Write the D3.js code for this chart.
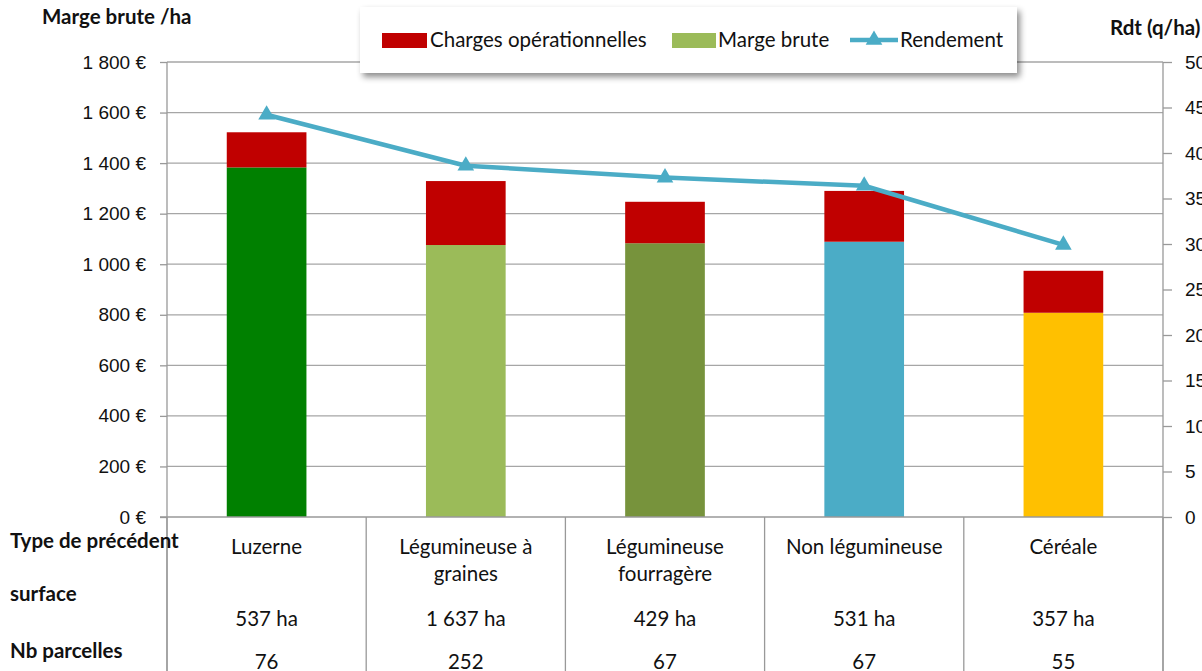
<!DOCTYPE html>
<html lang="fr">
<head>
<meta charset="UTF-8">
<script src="https://cdn.jsdelivr.net/npm/d3@7"></script>
<title>Marge brute par type de précédent</title>
<style>
    body { margin: 0; background: white; }
    svg { display: block; font-family: Lato, 'Open Sans', sans-serif; }
    .grid line { stroke: #a6a6a6; stroke-width: 1.3px; }
    .axis path, .axis line { stroke: #999; stroke-width: 1.3px; }
    .axis text { font-size: 19px; fill: #111; }
</style>
</head>
<body>
<div id="chart"></div>
<script>
    const categories = [["Luzerne"], ["Légumineuse à", "graines"], ["Légumineuse", "fourragère"], ["Non légumineuse"], ["Céréale"]];
    const margeBrute = [1383, 1076, 1083, 1089, 808];
    const charges = [139, 253, 164, 201, 166];
    const rendement = [44.2, 38.6, 37.3, 36.4, 29.9];
    const surfaces = ["537 ha", "1 637 ha", "429 ha", "531 ha", "357 ha"];
    const parcelles = ["76", "252", "67", "67", "55"];
    const barColors = ["#008000", "#9bbb59", "#77933c", "#4bacc6", "#ffc000"];
    const leftTicks = [0, 200, 400, 600, 800, 1000, 1200, 1400, 1600, 1800];
    const rightTicks = [0, 5, 10, 15, 20, 25, 30, 35, 40, 45, 50];

    const width = 1202, height = 671;
    const x0 = 167, x1 = 1163, yTop = 62, yBottom = 517;
    const red = "#c00000", lineColor = "#4bacc6";
    const fs = 20.5;

    const fr = d3.formatLocale({ decimal: ",", thousands: " ", grouping: [3], currency: ["", " €"] });
    const euro = fr.format("$,.0f");

    const svg = d3.select("#chart").append("svg")
        .attr("width", width)
        .attr("height", height);

    const defs = svg.append("defs");
    defs.append("filter").attr("id", "shadow")
        .attr("x", "-5%").attr("y", "-20%").attr("width", "115%").attr("height", "160%")
        .append("feDropShadow")
        .attr("dx", 3).attr("dy", 4).attr("stdDeviation", 3)
        .attr("flood-color", "#000").attr("flood-opacity", 0.45);

    const x = d3.scaleBand()
        .domain(d3.range(categories.length))
        .range([x0, x1])
        .paddingInner(0.6)
        .paddingOuter(0.3);
    const step = x.step();

    const y = d3.scaleLinear().domain([0, 1800]).range([yBottom, yTop]);
    const yR = d3.scaleLinear().domain([0, 50]).range([yBottom, yTop]);

    // gridlines
    svg.append("g").attr("class", "grid")
        .selectAll("line")
        .data(leftTicks.filter(d => d > 0))
        .enter().append("line")
        .attr("x1", x0).attr("x2", x1)
        .attr("y1", d => y(d)).attr("y2", d => y(d));

    // table lines below the axis
    svg.append("g").attr("class", "axis")
        .selectAll("line")
        .data(d3.range(categories.length + 1))
        .enter().append("line")
        .attr("x1", i => x0 + i * step)
        .attr("x2", i => x0 + i * step)
        .attr("y1", yBottom)
        .attr("y2", height);

    // stacked bars
    const bars = svg.append("g");
    bars.selectAll(".marge")
        .data(margeBrute)
        .enter().append("rect")
        .attr("x", (d, i) => x(i))
        .attr("width", x.bandwidth())
        .attr("y", d => y(d))
        .attr("height", d => y(0) - y(d))
        .attr("fill", (d, i) => barColors[i]);
    bars.selectAll(".charges")
        .data(charges)
        .enter().append("rect")
        .attr("x", (d, i) => x(i))
        .attr("width", x.bandwidth())
        .attr("y", (d, i) => y(margeBrute[i] + d))
        .attr("height", (d, i) => y(margeBrute[i]) - y(margeBrute[i] + d))
        .attr("fill", red);

    // axes
    svg.append("g").attr("class", "axis")
        .attr("transform", `translate(${x0},0)`)
        .call(d3.axisLeft(y).tickValues(leftTicks).tickFormat(euro).tickSize(7).tickSizeOuter(0).tickPadding(14))
        .call(g => g.select(".domain").remove());
    svg.append("g").attr("class", "axis")
        .attr("transform", `translate(${x1},0)`)
        .call(d3.axisRight(yR).tickValues(rightTicks).tickSize(9).tickSizeOuter(0).tickPadding(13))
        .call(g => g.select(".domain").remove());
    svg.append("line")
        .attr("x1", 160).attr("x2", x1).attr("y1", y(0)).attr("y2", y(0))
        .attr("stroke", "#999").attr("stroke-width", 1.3);
    svg.append("line")
        .attr("x1", x0).attr("x2", x0).attr("y1", yTop).attr("y2", height)
        .attr("stroke", "#999").attr("stroke-width", 1.3);
    svg.append("line")
        .attr("x1", x1).attr("x2", x1).attr("y1", yTop).attr("y2", height)
        .attr("stroke", "#999").attr("stroke-width", 1.3);

    // rendement line
    const cx = i => x(i) + x.bandwidth() / 2;
    const line = d3.line()
        .x((d, i) => cx(i))
        .y(d => yR(d));
    svg.append("path")
        .datum(rendement)
        .attr("fill", "none")
        .attr("stroke", lineColor)
        .attr("stroke-width", 4.5)
        .attr("stroke-linejoin", "round")
        .attr("d", line);
    const tri = d3.symbol().type(d3.symbolTriangle).size(120);
    svg.selectAll(".marker")
        .data(rendement)
        .enter().append("path")
        .attr("transform", (d, i) => `translate(${cx(i)},${yR(d)})`)
        .attr("d", tri)
        .attr("fill", lineColor);

    // axis titles
    svg.append("text").attr("x", 42).attr("y", 24)
        .attr("font-size", fs).attr("font-weight", "bold").attr("fill", "#111")
        .text("Marge brute /ha");
    svg.append("text").attr("x", 1110).attr("y", 35)
        .attr("font-size", fs).attr("font-weight", "bold").attr("fill", "#111")
        .text("Rdt (q/ha)");

    // table
    const rowLabels = [["Type de précédent", 548], ["surface", 601], ["Nb parcelles", 658]];
    svg.selectAll(".rowlabel")
        .data(rowLabels)
        .enter().append("text")
        .attr("x", 10).attr("y", d => d[1])
        .attr("font-size", fs).attr("font-weight", "bold").attr("fill", "#111")
        .text(d => d[0]);

    const colCenter = i => x0 + (i + 0.5) * step;
    const cat = svg.selectAll(".cat")
        .data(categories)
        .enter().append("text")
        .attr("text-anchor", "middle")
        .attr("font-size", fs).attr("fill", "#111")
        .attr("y", 554);
    cat.selectAll("tspan")
        .data((d, i) => d.map(s => [s, i]))
        .enter().append("tspan")
        .attr("x", d => colCenter(d[1]))
        .attr("dy", (d, j) => j === 0 ? 0 : 27)
        .text(d => d[0]);

    svg.selectAll(".surf")
        .data(surfaces)
        .enter().append("text")
        .attr("x", (d, i) => colCenter(i)).attr("y", 626)
        .attr("text-anchor", "middle").attr("font-size", fs).attr("fill", "#111")
        .text(d => d);
    svg.selectAll(".parc")
        .data(parcelles)
        .enter().append("text")
        .attr("x", (d, i) => colCenter(i)).attr("y", 669)
        .attr("text-anchor", "middle").attr("font-size", fs).attr("fill", "#111")
        .text(d => d);

    // legend
    const legend = svg.append("g");
    legend.append("rect")
        .attr("x", 360).attr("y", 7).attr("width", 657).attr("height", 66)
        .attr("fill", "white").attr("filter", "url(#shadow)");
    legend.append("rect").attr("x", 382).attr("y", 33).attr("width", 45).attr("height", 15).attr("fill", red);
    legend.append("text").attr("x", 430).attr("y", 47).attr("font-size", fs).attr("fill", "#111")
        .text("Charges opérationnelles");
    legend.append("rect").attr("x", 672).attr("y", 33).attr("width", 44).attr("height", 15).attr("fill", barColors[1]);
    legend.append("text").attr("x", 718).attr("y", 47).attr("font-size", fs).attr("fill", "#111")
        .text("Marge brute");
    legend.append("line").attr("x1", 850).attr("x2", 898).attr("y1", 40).attr("y2", 40)
        .attr("stroke", lineColor).attr("stroke-width", 4.5);
    legend.append("path").attr("transform", "translate(874,40)").attr("d", tri).attr("fill", lineColor);
    legend.append("text").attr("x", 900).attr("y", 47).attr("font-size", fs).attr("fill", "#111")
        .text("Rendement");
</script>
</body>
</html>
